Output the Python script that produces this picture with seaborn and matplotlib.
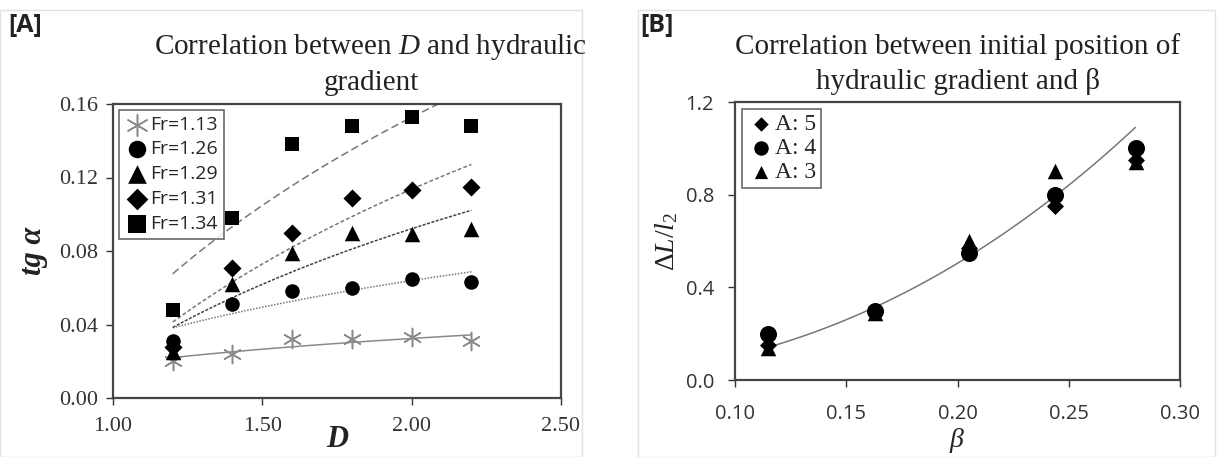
import numpy as np
import pandas as pd
import seaborn as sns
import matplotlib.pyplot as plt
from matplotlib import font_manager as fm
from matplotlib.patches import Rectangle

# ---- panel A data: tg(alpha) vs D for several Froude numbers
d_vals = [1.2, 1.4, 1.6, 1.8, 2.0, 2.2]
fr_labels = ['Fr=1.13', 'Fr=1.26', 'Fr=1.29', 'Fr=1.31', 'Fr=1.34']
tg_fr113 = [0.020, 0.024, 0.032, 0.032, 0.033, 0.031]
tg_fr126 = [0.031, 0.051, 0.058, 0.060, 0.065, 0.063]
tg_fr129 = [0.025, 0.062, 0.079, 0.090, 0.089, 0.092]
tg_fr131 = [0.028, 0.071, 0.090, 0.109, 0.113, 0.115]
tg_fr134 = [0.048, 0.098, 0.138, 0.148, 0.153, 0.148]

# ---- panel B data: dL/l2 vs beta for three A values
beta_vals = [0.115, 0.163, 0.205, 0.244, 0.280]
a_labels = ['A: 5', 'A: 4', 'A: 3']
dl_a5 = [0.15, 0.30, 0.57, 0.75, 0.95]
dl_a4 = [0.20, 0.30, 0.55, 0.80, 1.00]
dl_a3 = [0.14, 0.29, 0.60, 0.90, 0.94]


def log_fit(x, y, n=100):
    # excel style log trendline y = a*ln(x) + b
    x = np.asarray(x)
    a, b = np.polyfit(np.log(x), np.asarray(y), 1)
    xs = np.linspace(x.min(), x.max(), n)
    return pd.DataFrame({'x': xs, 'y': a * np.log(xs) + b})


def power_fit(x, y, n=100):
    # excel style power trendline y = a * x^b
    x = np.asarray(x)
    b, lna = np.polyfit(np.log(x), np.log(np.asarray(y)), 1)
    xs = np.linspace(x.min(), x.max(), n)
    return pd.DataFrame({'x': xs, 'y': np.exp(lna) * xs ** b})


# make sure the liberation / open sans files are known
for f in fm.findSystemFonts():
    if 'Liberation' in f or 'OpenSans' in f or 'Open_Sans' in f:
        try:
            fm.fontManager.addfont(f)
        except Exception:
            pass

sns.set_theme(style='white')
plt.rcParams['mathtext.fontset'] = 'custom'
plt.rcParams['mathtext.rm'] = 'Liberation Serif'
plt.rcParams['mathtext.it'] = 'Liberation Serif:italic'
plt.rcParams['mathtext.bf'] = 'Liberation Serif:bold'
plt.rcParams['font.family'] = ['Liberation Serif', 'DejaVu Serif']

fig = plt.figure(figsize=(12.26, 4.57), dpi=100)
fig.patch.set_facecolor('white')

# light panel frames
fig.patches.append(Rectangle((0.0, 0.0), 582 / 1226, 447 / 457, transform=fig.transFigure,
                             fill=False, edgecolor='#e2e2e2', lw=1))
fig.patches.append(Rectangle((638 / 1226, 0.0), 577 / 1226, 447 / 457, transform=fig.transFigure,
                             fill=False, edgecolor='#e2e2e2', lw=1))

axA = fig.add_axes([113 / 1226, 1 - 398 / 457, 448 / 1226, 294 / 457])
axB = fig.add_axes([735 / 1226, 1 - 380 / 457, 445 / 1226, 278 / 457])

# ---------------- panel A
series_a = [tg_fr113, tg_fr126, tg_fr129, tg_fr131, tg_fr134]
markers_a = [(6, 2, 0), 'o', '^', 'D', 's']
sizes_a = [170, 110, 125, 85, 115]
mcolors_a = ['#8a8a8a', 'black', 'black', 'black', 'black']
line_styles = ['-', (0, (1, 1)), (0, (2, 1)), (0, (2.5, 1.5)), (0, (5, 2.5))]
line_colors = ['#8a8a8a', '#777777', '#444444', '#777777', '#777777']

for lab, vals, m, s, c, ls, lc in zip(fr_labels, series_a, markers_a, sizes_a,
                                      mcolors_a, line_styles, line_colors):
    fit = log_fit(d_vals, vals)
    sns.lineplot(data=fit, x='x', y='y', ax=axA, color=lc, lw=1.1, linestyle=ls,
                 legend=False, zorder=2)
    df = pd.DataFrame({'D': d_vals, 'tg': vals})
    if m == (6, 2, 0):
        sns.scatterplot(data=df, x='D', y='tg', ax=axA, marker=m, s=s, color=c,
                        linewidth=1.1, edgecolor=c, label=lab, zorder=3)
    else:
        sns.scatterplot(data=df, x='D', y='tg', ax=axA, marker=m, s=s, color=c,
                        linewidth=0, label=lab, zorder=3)

axA.set_xlim(1.0, 2.5)
axA.set_ylim(0.0, 0.16)
axA.set_xticks([1.0, 1.5, 2.0, 2.5])
axA.set_yticks([0.0, 0.04, 0.08, 0.12, 0.16])
axA.set_xticklabels(['1.00', '1.50', '2.00', '2.50'])
axA.set_yticklabels(['0.00', '0.04', '0.08', '0.12', '0.16'])
axA.tick_params(axis='both', labelsize=16, colors='#333333', length=5, width=1,
                direction='out', bottom=True, left=True)
axA.tick_params(axis='x', pad=9)
axA.tick_params(axis='y', pad=6)
axA.set_xlabel('D', fontsize=22, fontweight='bold', style='italic', labelpad=-8, color='#222222')
axA.set_ylabel('tg α', fontsize=22, fontweight='bold', style='italic', labelpad=8, color='#222222')
legA = axA.legend(loc='upper left', prop={'family': 'Open Sans', 'size': 14},
                  frameon=True, fancybox=False, edgecolor='#444444', borderaxespad=0.3,
                  handletextpad=0.0, labelspacing=0.35, borderpad=0.3, handlelength=1.3,
                  markerscale=1.2)
legA.get_frame().set_linewidth(1.2)

# ---------------- panel B
series_b = [dl_a5, dl_a4, dl_a3]
markers_b = ['D', 'o', '^']
sizes_b = [75, 150, 125]
# trendline fitted on the A: 3 series
fitB = power_fit(beta_vals, dl_a3)
sns.lineplot(data=fitB, x='x', y='y', ax=axB, color='#777777', lw=1.1, legend=False, zorder=2)
for lab, vals, m, s in zip(a_labels, series_b, markers_b, sizes_b):
    df = pd.DataFrame({'beta': beta_vals, 'dl': vals})
    sns.scatterplot(data=df, x='beta', y='dl', ax=axB, marker=m, s=s, color='black',
                    linewidth=0, label=lab, zorder=3)

axB.set_xlim(0.10, 0.30)
axB.set_ylim(0.0, 1.2)
axB.set_xticks([0.10, 0.15, 0.20, 0.25, 0.30])
axB.set_yticks([0.0, 0.4, 0.8, 1.2])
axB.set_xticklabels(['0.10', '0.15', '0.20', '0.25', '0.30'], family='Open Sans')
axB.set_yticklabels(['0.0', '0.4', '0.8', '1.2'], family='Open Sans')
axB.tick_params(axis='both', labelsize=14.5, colors='#333333', length=5, width=1,
                direction='out', bottom=True, left=True)
axB.tick_params(axis='x', pad=12)
axB.tick_params(axis='y', pad=10)
axB.set_xlabel(r'$\beta$', fontsize=20, labelpad=2, color='#222222')
axB.set_ylabel(r'$\mathit{ΔL/l}_2$', fontsize=20, labelpad=4, color='#222222')
legB = axB.legend(loc='upper left', prop={'family': 'Liberation Serif', 'size': 17},
                  frameon=True, fancybox=False, edgecolor='#444444', borderaxespad=0.3,
                  handletextpad=0.0, labelspacing=0.1, borderpad=0.2, handlelength=1.2,
                  markerscale=0.85)
legB.get_frame().set_linewidth(1.2)

for ax in (axA, axB):
    for sp in ax.spines.values():
        sp.set_visible(True)
        sp.set_color('#444444')
        sp.set_linewidth(1.6)
    ax.set_facecolor('white')

# titles and panel tags
fig.text(371 / 1226, 1 - 64 / 457, 'Correlation between $D$ and hydraulic\ngradient',
         ha='center', va='center', fontsize=21, linespacing=1.35, color='#222222')
fig.text(958 / 1226, 1 - 64 / 457, 'Correlation between initial position of\nhydraulic gradient and β',
         ha='center', va='center', fontsize=21, linespacing=1.35, color='#222222')
fig.text(8 / 1226, 1 - 25 / 457, '[A]', ha='left', va='center', fontsize=18,
         fontweight='bold', family='Open Sans', color='#222222')
fig.text(640 / 1226, 1 - 25 / 457, '[B]', ha='left', va='center', fontsize=18,
         fontweight='bold', family='Open Sans', color='#222222')

fig.savefig('out.png', dpi=100)
